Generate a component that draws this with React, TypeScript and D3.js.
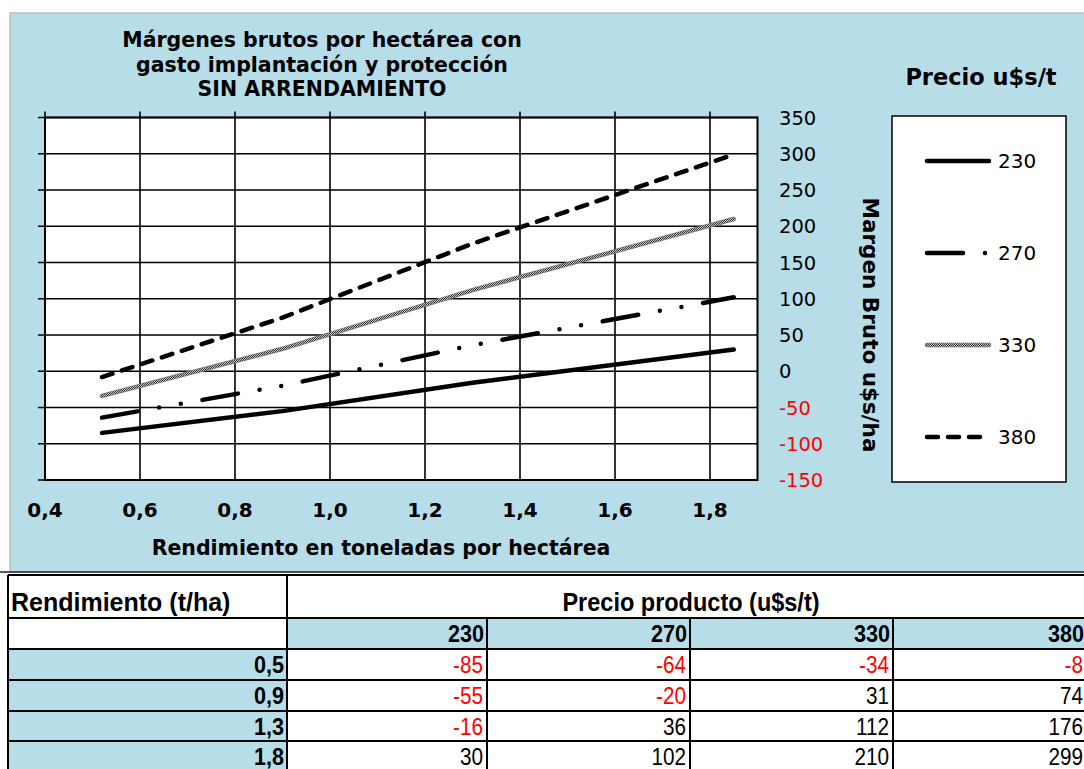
import React from 'react';
import * as d3 from 'd3';

// ---- data ----
const yieldValues = [0.52, 0.9, 1.3, 1.85];
const yieldLabels = ['0,5', '0,9', '1,3', '1,8'];
const priceLabels = ['230', '270', '330', '380'];
const margin230 = [-85, -55, -16, 30];
const margin270 = [-64, -20, 36, 102];
const margin330 = [-34, 31, 112, 210];
const margin380 = [-8, 74, 176, 299];
const xTicks = [0.4, 0.6, 0.8, 1.0, 1.2, 1.4, 1.6, 1.8];
const yTicks = [-150, -100, -50, 0, 50, 100, 150, 200, 250, 300, 350];

const titleLines = [
  'Márgenes brutos por hectárea con',
  'gasto implantación y protección',
  'SIN ARRENDAMIENTO',
];

const CHART_FONT = 'DejaVu Sans, Verdana, sans-serif';
const TABLE_FONT = '"Liberation Sans", Arial, sans-serif';
const BG = '#b7dde8';

const seriesStyles = [
  { stroke: '#000', dash: undefined as string | undefined, width: 4.5 },
  { stroke: '#000', dash: '36 22 0 22 0 22', width: 4.5 },
  { stroke: 'url(#checker)', dash: undefined as string | undefined, width: 4 },
  { stroke: '#000', dash: '11 10', width: 4.5 },
];

function TText(props: {
  x: number;
  y: number;
  anchor?: 'start' | 'middle' | 'end';
  bold?: boolean;
  fill?: string;
  size?: number;
  sx?: number;
  children: React.ReactNode;
}) {
  return (
    <text
      transform={`translate(${props.x},${props.y}) scale(${props.sx ?? 0.9},1)`}
      fontSize={props.size ?? 23}
      fontWeight={props.bold ? 'bold' : 'normal'}
      textAnchor={props.anchor || 'start'}
      fill={props.fill || '#000'}
    >
      {props.children}
    </text>
  );
}

export default function App() {
  const series = [margin230, margin270, margin330, margin380];
  const x = d3.scaleLinear().domain([0.4, 1.9]).range([45, 757.5]);
  const y = d3.scaleLinear().domain([-150, 350]).range([480, 117.5]);
  const line = d3
    .line<number>()
    .x((_, i) => x(yieldValues[i]))
    .y((d) => y(d));

  const [x0, x1] = x.range();
  const [yb, yt] = y.range();
  const fmtX = (v: number) => d3.format('.1f')(v).replace('.', ',');

  const legendRows = d3.scalePoint<string>().domain(priceLabels).range([161, 437]);

  const colX = [8, 287, 487, 690, 893, 1087];
  const rowY = [575, 618, 649, 680, 711, 741, 772];
  const tableVals = yieldLabels.map((_, r) => series.map((s) => s[r]));

  return (
    <svg
      width={1084}
      height={769}
      style={{ position: 'absolute', left: 0, top: 0, background: '#fff' }}
    >
      <defs>
        <pattern id="checker" width={2} height={2} patternUnits="userSpaceOnUse">
          <rect width={2} height={2} fill="#c8c8c8" />
          <rect width={1} height={1} fill="#333" />
          <rect x={1} y={1} width={1} height={1} fill="#333" />
        </pattern>
      </defs>

      {/* chart area */}
      <rect x={10} y={13} width={1080} height={559} fill={BG} stroke="#bdbdbd" strokeWidth={1.5} />

      {/* title */}
      <g fontFamily={CHART_FONT} fontWeight="bold" fontSize={20.5} textAnchor="middle" fill="#000">
        {titleLines.map((t, i) => (
          <text key={i} x={322} y={47 + i * 24.5}>
            {t}
          </text>
        ))}
      </g>

      {/* plot area */}
      <rect x={x0} y={yt} width={x1 - x0} height={yb - yt} fill="#fff" />
      {yTicks.map((t) => (
        <line key={'gy' + t} x1={x0 - 7} x2={x1} y1={y(t)} y2={y(t)} stroke="#000" strokeWidth={1.6} />
      ))}
      {xTicks.map((t) => (
        <line key={'gx' + t} x1={x(t)} x2={x(t)} y1={yt - 6} y2={yb} stroke="#000" strokeWidth={1.6} />
      ))}
      <rect x={x0} y={yt} width={x1 - x0} height={yb - yt} fill="none" stroke="#000" strokeWidth={2} />

      {/* series */}
      {series.map((s, i) => (
        <g key={'s' + i}>
          {i === 2 && (
            <path d={line(s) || ''} fill="none" stroke="#777" strokeWidth={4.5} strokeLinecap="round" />
          )}
          <path
            d={line(s) || ''}
            fill="none"
            stroke={seriesStyles[i].stroke}
            strokeWidth={i === 2 ? 3 : seriesStyles[i].width}
            strokeDasharray={seriesStyles[i].dash}
            strokeLinecap="round"
            strokeLinejoin="round"
          />
        </g>
      ))}

      {/* x tick labels */}
      <g fontFamily={CHART_FONT} fontWeight="bold" fontSize={20} textAnchor="middle">
        {xTicks.map((t) => (
          <text key={'xl' + t} x={x(t)} y={517}>
            {fmtX(t)}
          </text>
        ))}
      </g>
      <text x={381} y={555} fontFamily={CHART_FONT} fontWeight="bold" fontSize={20.5} textAnchor="middle">
        Rendimiento en toneladas por hectárea
      </text>

      {/* y tick labels (right) */}
      <g fontFamily={CHART_FONT} fontSize={19.5}>
        {yTicks.map((t) => (
          <text key={'yl' + t} x={779} y={y(t)} dy="0.36em" fill={t < 0 ? '#ff0000' : '#000'}>
            {String(t)}
          </text>
        ))}
      </g>
      <text
        transform="translate(863,325) rotate(90)"
        fontFamily={CHART_FONT}
        fontWeight="bold"
        fontSize={21.5}
        textAnchor="middle"
      >
        Margen Bruto u$s/ha
      </text>

      {/* legend */}
      <text x={981} y={85} fontFamily={CHART_FONT} fontWeight="bold" fontSize={22.5} textAnchor="middle">
        Precio u$s/t
      </text>
      <rect x={892} y={116} width={174} height={366} fill="#fff" stroke="#000" strokeWidth={1.5} />
      {priceLabels.map((p, i) => {
        const ly = legendRows(p) as number;
        return (
          <g key={'lg' + p}>
            {i === 2 && (
              <line x1={927} x2={989} y1={ly} y2={ly} stroke="#777" strokeWidth={4.5} strokeLinecap="round" />
            )}
            <line
              x1={927}
              x2={989}
              y1={ly}
              y2={ly}
              stroke={seriesStyles[i].stroke}
              strokeWidth={i === 2 ? 3 : seriesStyles[i].width}
              strokeDasharray={seriesStyles[i].dash}
              strokeLinecap="round"
            />
            <text x={998} y={ly} dy="0.36em" fontFamily={CHART_FONT} fontSize={20}>
              {p}
            </text>
          </g>
        );
      })}

      {/* table */}
      <g fontFamily={TABLE_FONT}>
        <rect x={colX[0]} y={rowY[0]} width={colX[5] - colX[0]} height={rowY[6] - rowY[0]} fill="#fff" />
        <rect x={colX[1]} y={rowY[1]} width={colX[5] - colX[1]} height={rowY[2] - rowY[1]} fill={BG} />
        {yieldLabels.map((_, r) => (
          <rect
            key={'ca' + r}
            x={colX[0]}
            y={rowY[r + 2]}
            width={colX[1] - colX[0]}
            height={rowY[r + 3] - rowY[r + 2]}
            fill={BG}
          />
        ))}
        <line x1={0} x2={1084} y1={572} y2={572} stroke="#222" strokeWidth={1.5} />
        {rowY.slice(0, 6).map((ry, i) => (
          <line key={'hr' + i} x1={colX[0]} x2={1084} y1={ry} y2={ry} stroke="#000" strokeWidth={2} />
        ))}
        <line x1={colX[0]} x2={colX[0]} y1={rowY[0]} y2={769} stroke="#000" strokeWidth={2} />
        <line x1={colX[1]} x2={colX[1]} y1={rowY[0]} y2={769} stroke="#000" strokeWidth={2} />
        {[2, 3, 4].map((c) => (
          <line key={'vc' + c} x1={colX[c]} x2={colX[c]} y1={rowY[1]} y2={769} stroke="#000" strokeWidth={2} />
        ))}
        <TText x={11} y={611} bold size={25} sx={1.0}>
          Rendimiento (t/ha)
        </TText>
        <TText x={691} y={611} bold anchor="middle" size={25} sx={0.94}>
          Precio producto (u$s/t)
        </TText>
        {priceLabels.map((p, c) => (
          <TText key={'ph' + p} x={colX[c + 2] - 3} y={642} bold anchor="end" size={24}>
            {p}
          </TText>
        ))}
        {yieldLabels.map((l, r) => (
          <g key={'row' + r}>
            <TText x={colX[1] - 3} y={rowY[r + 2] + 24} bold anchor="end" size={24}>
              {l}
            </TText>
            {tableVals[r].map((v, c) => (
              <TText
                key={'v' + c}
                x={colX[c + 2] - 4}
                y={rowY[r + 2] + 24}
                anchor="end"
                fill={v < 0 ? '#ff0000' : '#000'}
              >
                {String(v)}
              </TText>
            ))}
          </g>
        ))}
      </g>
    </svg>
  );
}
